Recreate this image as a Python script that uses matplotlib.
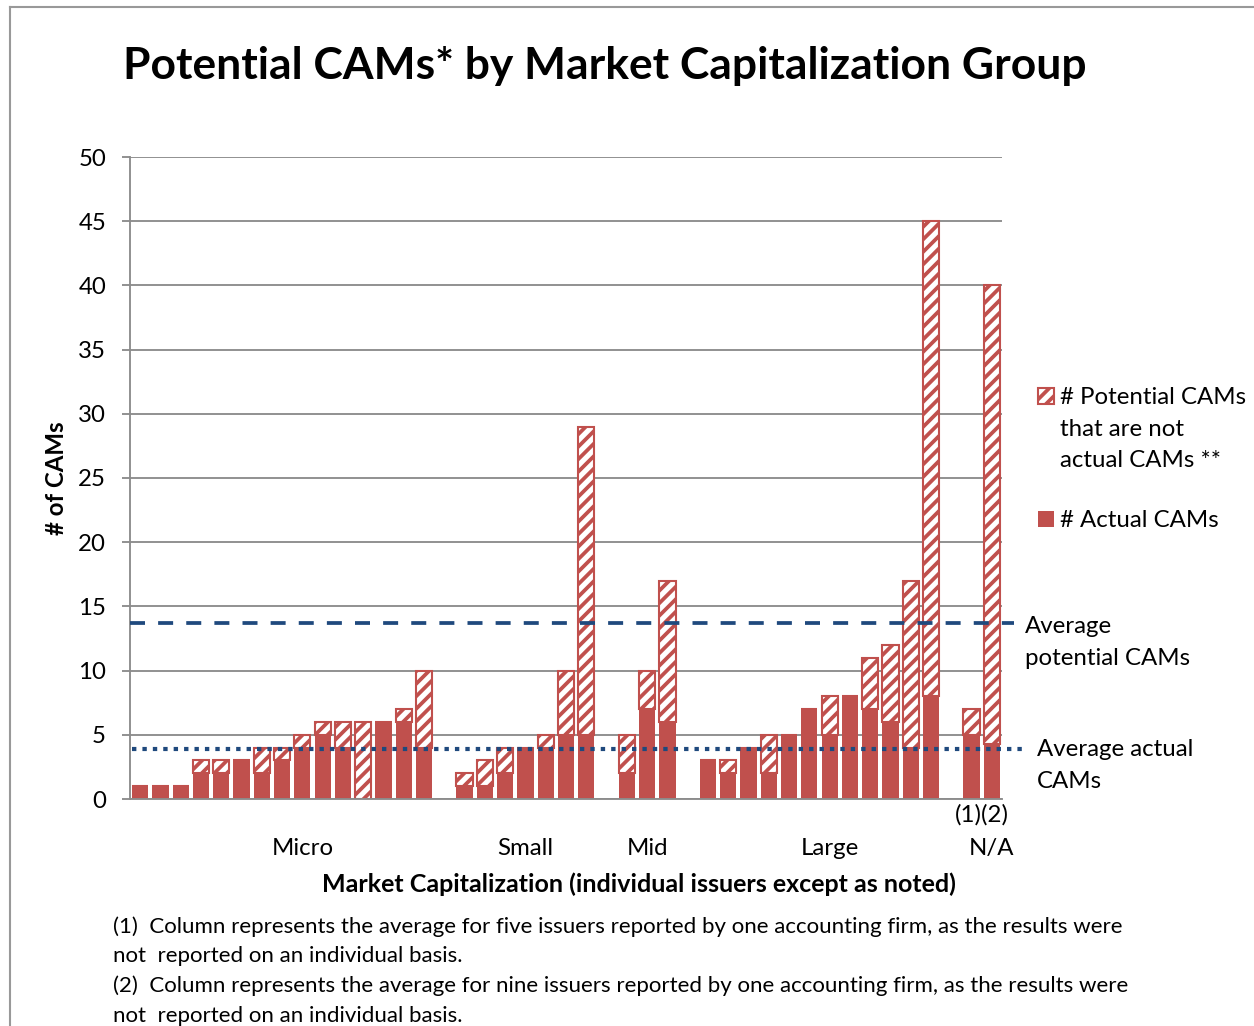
import matplotlib
matplotlib.use("Agg")
import matplotlib.pyplot as plt
from matplotlib.patches import Rectangle
from matplotlib.lines import Line2D
import numpy as np

plt.rcParams['font.family'] = ['Lato', 'DejaVu Sans']
plt.rcParams['hatch.linewidth'] = 1.8

# ---------------- data ----------------
group_names = ["Micro", "Small", "Mid", "Large", "N/A"]
micro_actual = [1, 1, 1, 2, 2, 3, 2, 3, 4, 5, 4, 0, 6, 6, 4]
micro_not = [0, 0, 0, 1, 1, 0, 2, 1, 1, 1, 2, 6, 0, 1, 6]
small_actual = [1, 1, 2, 4, 4, 5, 5]
small_not = [1, 2, 2, 0, 1, 5, 24]
mid_actual = [2, 7, 6]
mid_not = [3, 3, 11]
large_actual = [3, 2, 4, 2, 5, 7, 5, 8, 7, 6, 4, 8]
large_not = [0, 1, 0, 3, 0, 0, 3, 0, 4, 6, 13, 37]
na_actual = [5, 4.3]
na_not = [2, 35.7]
avg_potential = 13.7
avg_actual = 3.9
y_ticks = [0, 5, 10, 15, 20, 25, 30, 35, 40, 45, 50]
na_notes = ["(1)", "(2)"]

title = "Potential CAMs* by Market Capitalization Group"
x_label = "Market Capitalization (individual issuers except as noted)"
y_label = "# of CAMs"
legend_potential = "# Potential CAMs\nthat are not\nactual CAMs **"
legend_actual = "# Actual CAMs"
avg_pot_label = "Average\npotential CAMs"
avg_act_label = "Average actual\nCAMs"
footnotes = [
    "(1)  Column represents the average for five issuers reported by one accounting firm, as the results were",
    "not  reported on an individual basis.",
    "(2)  Column represents the average for nine issuers reported by one accounting firm, as the results were",
    "not  reported on an individual basis.",
]

RED = "#C0504D"
BLUE = "#1F497D"
GRID = "#8C8C8C"

W, H, DPI = 1254, 1026, 150
fig = plt.figure(figsize=(W / DPI, H / DPI), dpi=DPI)

def fx(px):
    return px / W

def fy(py):
    return 1 - py / H

ax = fig.add_axes([fx(130), fy(799), fx(1002) - fx(130), fy(157) - fy(799)])

groups_actual = [micro_actual, small_actual, mid_actual, large_actual, na_actual]
groups_not = [micro_not, small_not, mid_not, large_not, na_not]
label_offsets = [8, 3, 1, 6, 1]

positions_all = []
tick_pos = []
start = 0
for act, nat, off in zip(groups_actual, groups_not, label_offsets):
    pos = start + np.arange(len(act))
    positions_all.append(pos)
    tick_pos.append(start + off)
    ax.bar(pos, act, width=0.8, color=RED, edgecolor="none", zorder=3)
    ax.bar(pos, nat, width=0.8, bottom=act, color="white", edgecolor=RED,
           hatch="////", linewidth=1.0, zorder=3)
    start += len(act) + 1

ax.set_xlim(-0.5, start - 1.5)
ax.set_ylim(0, 50)
ax.set_yticks(y_ticks)
ax.set_xticks(tick_pos)
ax.set_xticklabels(group_names)

ax.tick_params(axis="y", length=4, width=0.9, color=GRID, pad=7.5, labelsize=11.5)
ax.tick_params(axis="x", length=0, pad=18.5, labelsize=11.5)
ax.yaxis.grid(True, color=GRID, linewidth=0.9, zorder=0)
ax.set_axisbelow(True)
for s in ["top", "right"]:
    ax.spines[s].set_visible(False)
for s in ["left", "bottom"]:
    ax.spines[s].set_color(GRID)
    ax.spines[s].set_linewidth(0.9)
    ax.spines[s].set_zorder(4)

# average lines
xr = ax.get_xlim()
ax.plot([xr[0], 43.1], [avg_potential] * 2, color=BLUE, linewidth=1.8,
        dashes=(4.0, 3.5), dash_capstyle="butt", clip_on=False, zorder=5)
ax.plot([xr[0] + 0.1, 43.5], [avg_actual] * 2, color=BLUE, linewidth=2.0,
        dashes=(1.05, 1.45), dash_capstyle="butt", clip_on=False, zorder=5)

# (1)(2) notes under N/A bars
na_pos = positions_all[-1]
ax.text(np.mean(na_pos), -1.2, "".join(na_notes), ha="center", va="center",
        fontsize=11.5)

fig.text(fx(1025), fy(616), avg_pot_label, ha="left", va="top", fontsize=11.5,
         linespacing=1.62)
fig.text(fx(1037), fy(739), avg_act_label, ha="left", va="top", fontsize=11.5,
         linespacing=1.62)

fig.text(fx(639), fy(884), x_label, ha="center", va="center", fontsize=12,
         fontweight="bold")
fig.text(fx(57), fy(478), y_label, ha="center", va="center", rotation=90,
         fontsize=11.5, fontweight="bold")
fig.text(fx(123), fy(66), title, ha="left", va="center", fontsize=21.3,
         fontweight="bold")

for i, line in enumerate(footnotes):
    fig.text(fx(113), fy(927 + i * 29.5), line, ha="left", va="center",
             fontsize=10.7)

# legend (manual, handles aligned to first line)
leg_items = [(legend_potential, dict(facecolor="white", edgecolor=RED, hatch="////", linewidth=1.0), 388),
             (legend_actual, dict(facecolor=RED, edgecolor="none"), 511)]
for lab, style, ytop in leg_items:
    r = Rectangle((fx(1038), fy(ytop + 16)), fx(16), 16 / H, transform=fig.transFigure, **style)
    fig.add_artist(r)
    fig.text(fx(1060), fy(ytop - 1), lab, ha="left", va="top", fontsize=11.5,
             linespacing=1.62)

# figure border (left and top only visible)
fig.add_artist(Line2D([fx(10), fx(10)], [fy(7), 0], color="#999999", linewidth=1.0,
                      transform=fig.transFigure))
fig.add_artist(Line2D([fx(10), 1], [fy(7), fy(7)], color="#999999", linewidth=1.0,
                      transform=fig.transFigure))

fig.savefig("out.png", dpi=DPI)
